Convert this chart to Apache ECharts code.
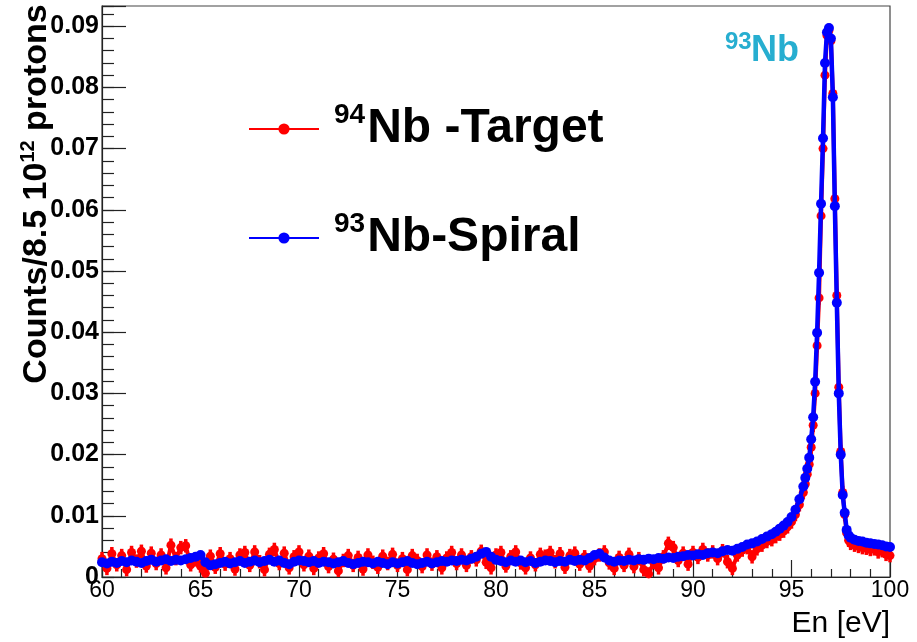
<!DOCTYPE html>
<html><head><meta charset="utf-8">
<script src="https://cdn.jsdelivr.net/npm/echarts@6/dist/echarts.min.js"></script>
<style>html,body{margin:0;padding:0;background:#fff}#c{width:917px;height:642px}</style>
</head><body><div id="c"></div>
<script>
// Neutron energy (eV) bin centres
const energies = [
60,60.25,60.5,60.75, 61,61.25,61.5,61.75, 62,62.25,62.5,62.75, 63,63.25,63.5,63.75,
64,64.25,64.5,64.75, 65,65.25,65.5,65.75, 66,66.25,66.5,66.75, 67,67.25,67.5,67.75,
68,68.25,68.5,68.75, 69,69.25,69.5,69.75, 70,70.25,70.5,70.75, 71,71.25,71.5,71.75,
72,72.25,72.5,72.75, 73,73.25,73.5,73.75, 74,74.25,74.5,74.75, 75,75.25,75.5,75.75,
76,76.25,76.5,76.75, 77,77.25,77.5,77.75, 78,78.25,78.5,78.75, 79,79.25,79.5,79.75,
80,80.25,80.5,80.75, 81,81.25,81.5,81.75, 82,82.25,82.5,82.75, 83,83.25,83.5,83.75,
84,84.25,84.5,84.75, 85,85.25,85.5,85.75, 86,86.25,86.5,86.75, 87,87.25,87.5,87.75,
88,88.25,88.5,88.75, 89,89.25,89.5,89.75, 90,90.25,90.5,90.75, 91,91.25,91.5,91.75,
92,92.25,92.5,92.75, 93,93.25,93.5,93.75, 94,
94.2,94.4,94.6,94.8,95.0,95.2,95.4,95.6,
95.7,95.8,95.9,96.0,96.1,96.2,96.3,96.4,96.5,96.6,96.7,96.8,96.9,97.0,97.1,97.2,97.3,97.4,97.5,97.6,97.7,97.8,97.9,98.0,
98.2,98.4,98.6,98.8,99.0,99.2,99.4,99.6,99.8,100.0
];
// 94Nb - Target counts
const target94 = [
0.0030,0.0014,0.0038,0.0020, 0.0035,0.0012,0.0040,0.0026, 0.0042,0.0018,0.0039,0.0022, 0.0036,0.0015,0.0052,0.0030,
0.0048,0.0051,0.0020,0.0028, 0.0018,0.0006,0.0034,0.0016, 0.0038,0.0021,0.0030,0.0013, 0.0036,0.0040,0.0019,0.0041,
0.0025,0.0012,0.0037,0.0045, 0.0022,0.0039,0.0015,0.0033, 0.0041,0.0020,0.0034,0.0014, 0.0031,0.0038,0.0017,0.0029,
0.0010,0.0027,0.0035,0.0019, 0.0032,0.0013,0.0036,0.0024, 0.0016,0.0034,0.0022,0.0037, 0.0019,0.0030,0.0012,0.0035,
0.0027,0.0017,0.0036,0.0021, 0.0033,0.0015,0.0031,0.0040, 0.0022,0.0036,0.0019,0.0033, 0.0028,0.0042,0.0024,0.0015,
0.0036,0.0040,0.0018,0.0033, 0.0041,0.0023,0.0015,0.0031, 0.0020,0.0037,0.0034,0.0040, 0.0025,0.0038,0.0016,0.0035,
0.0039,0.0021,0.0033,0.0018, 0.0030,0.0036,0.0041,0.0023, 0.0014,0.0032,0.0019,0.0037, 0.0017,0.0030,0.0012,0.0005,
0.0024,0.0015,0.0033,0.0055, 0.0048,0.0027,0.0039,0.0021, 0.0040,0.0032,0.0045,0.0036, 0.0041,0.0030,0.0043,0.0025,
0.0014,0.0036,0.0044,0.0048, 0.0033,0.0046,0.0052,0.0058, 0.0061,
0.0066,0.0070,0.0075,0.0082,0.0090,0.0102,0.0118,0.0138,
0.0152,0.0168,0.0184,0.0212,0.0248,0.0300,0.0378,0.0456,0.0590,0.0700,0.0820,0.0885,0.0893,0.0876,0.0790,0.0618,0.0460,0.0310,0.0205,0.0138,0.0102,0.0072,0.0060,0.0055,
0.0052,0.0050,0.0048,0.0047,0.0045,0.0046,0.0041,0.0043,0.0037,0.0035
];
// 93Nb - Spiral counts
const spiral93 = [
0.0024,0.0022,0.0025,0.0023, 0.0026,0.0024,0.0027,0.0025, 0.0023,0.0026,0.0028,0.0025, 0.0027,0.0029,0.0026,0.0028,
0.0027,0.0029,0.0031,0.0033, 0.0036,0.0024,0.0019,0.0021, 0.0023,0.0025,0.0022,0.0024, 0.0026,0.0023,0.0025,0.0027,
0.0024,0.0026,0.0028,0.0025, 0.0027,0.0023,0.0021,0.0025, 0.0027,0.0026,0.0024,0.0026, 0.0023,0.0025,0.0024,0.0022,
0.0024,0.0026,0.0023,0.0021, 0.0023,0.0025,0.0024,0.0022, 0.0025,0.0023,0.0021,0.0024, 0.0022,0.0024,0.0026,0.0023,
0.0021,0.0023,0.0025,0.0022, 0.0024,0.0026,0.0025,0.0027, 0.0026,0.0028,0.0027,0.0030, 0.0033,0.0038,0.0041,0.0033,
0.0028,0.0026,0.0024,0.0027, 0.0025,0.0027,0.0024,0.0026, 0.0023,0.0025,0.0027,0.0026, 0.0024,0.0026,0.0025,0.0028,
0.0026,0.0028,0.0027,0.0031, 0.0036,0.0038,0.0032,0.0027, 0.0025,0.0027,0.0026,0.0028, 0.0027,0.0029,0.0028,0.0030,
0.0029,0.0031,0.0030,0.0032, 0.0031,0.0033,0.0034,0.0036, 0.0035,0.0037,0.0036,0.0039, 0.0040,0.0039,0.0042,0.0044,
0.0043,0.0046,0.0049,0.0053, 0.0055,0.0058,0.0062,0.0066, 0.0070,
0.0074,0.0079,0.0084,0.0090,0.0098,0.0110,0.0127,0.0148,
0.0162,0.0177,0.0195,0.0225,0.0261,0.0319,0.0399,0.0497,0.0610,0.0717,0.0840,0.0890,0.0897,0.0880,0.0784,0.0606,0.0448,0.0300,0.0200,0.0134,0.0105,0.0077,0.0068,0.0064,
0.0061,0.0059,0.0058,0.0056,0.0055,0.0054,0.0053,0.0052,0.0050,0.0049
];
const targetErrBar = 0.0011;   // approximate statistical error on the target spectrum
const seriesNames = ['94Nb -Target', '93Nb-Spiral'];
const xRange = [60, 100];
const yRange = [0, 0.0933];

const FONT = '"Liberation Sans", Arial, Helvetica, sans-serif';
const pairs = (ys) => energies.map((e, i) => [e, ys[i]]);

const chart = echarts.init(document.getElementById('c'), null, {renderer: 'canvas'});
chart.setOption({
  animation: false,
  backgroundColor: '#fff',
  grid: {left: 102, right: 27, top: 6, bottom: 65, show: true, borderColor: '#444', borderWidth: 1.2, backgroundColor: 'transparent'},
  xAxis: {
    type: 'value', min: xRange[0], max: xRange[1], interval: 5,
    axisLine: {show: true, lineStyle: {color: '#222', width: 1.2}},
    axisTick: {show: true, inside: true, length: 17, lineStyle: {color: '#222', width: 1.2}},
    minorTick: {show: true, splitNumber: 5, length: 8, lineStyle: {color: '#222', width: 1.2}},
    splitLine: {show: false},
    axisLabel: {color: '#000', fontSize: 23, fontFamily: FONT, margin: 2}
  },
  yAxis: [{
    type: 'value', min: yRange[0], max: yRange[1], interval: 0.01, position: 'left',
    axisLine: {show: true, lineStyle: {color: '#222', width: 1.2}},
    axisTick: {show: true, inside: true, length: 24, lineStyle: {color: '#222', width: 1.2}},
    splitLine: {show: false},
    axisLabel: {color: '#000', fontSize: 25, fontWeight: 'bold', fontFamily: FONT, margin: 3,
      formatter: v => v === 0 ? '0' : (v > 0.0905 ? '' : v.toFixed(2))}
  }, {
    type: 'value', min: yRange[0], max: yRange[1], interval: 0.002, position: 'left',
    axisLine: {show: false},
    axisTick: {show: true, inside: true, length: 12, lineStyle: {color: '#222', width: 1.2}},
    splitLine: {show: false}, axisLabel: {show: false}
  }],
  legend: {
    orient: 'vertical', left: 243, top: 96, itemGap: 57, itemWidth: 70, itemHeight: 14,
    data: seriesNames,
    formatter: name => name === seriesNames[0] ? '{sup|94}{main|Nb -Target}' : '{sup|93}{main|Nb-Spiral}',
    textStyle: {
      fontFamily: FONT,
      rich: {
        sup: {fontSize: 28, fontWeight: 'bold', fontFamily: FONT, color: '#000', verticalAlign: 'top', lineHeight: 30, padding: [0, 2, 0, 10]},
        main: {fontSize: 48, fontWeight: 'bold', fontFamily: FONT, color: '#000', lineHeight: 56}
      }
    }
  },
  graphic: [
    {type: 'text', x: 37, y: 194, rotation: Math.PI / 2,
     style: {text: '{a|Counts/8.5 10}{b|12}{a| protons}', textAlign: 'center', textVerticalAlign: 'middle',
       rich: {a: {fontSize: 34, fontWeight: 'bold', fontFamily: FONT, fill: '#000', color: '#000', lineHeight: 38},
              b: {fontSize: 20, fontWeight: 'bold', fontFamily: FONT, fill: '#000', color: '#000', verticalAlign: 'top', lineHeight: 23}}}},
    {type: 'text', x: 890, y: 624,
     style: {text: 'En [eV]', textAlign: 'right', textVerticalAlign: 'middle', font: '30px ' + FONT, fill: '#000'}},
    {type: 'text', x: 725, y: 42,
     style: {text: '93', textAlign: 'left', textVerticalAlign: 'middle', font: 'bold 24px ' + FONT, fill: '#27aed0'}},
    {type: 'text', x: 751, y: 51,
     style: {text: 'Nb', textAlign: 'left', textVerticalAlign: 'middle', font: 'bold 36px ' + FONT, fill: '#27aed0'}}
  ],
  series: [
    {name: 'errbars', type: 'custom', yAxisIndex: 0, silent: true, z: 1,
     data: pairs(target94),
     renderItem: (params, api) => {
       const x = api.value(0), y = api.value(1);
       const p1 = api.coord([x, Math.max(0, y - targetErrBar)]);
       const p2 = api.coord([x, y + targetErrBar]);
       return {type: 'line', shape: {x1: p1[0], y1: p1[1], x2: p2[0], y2: p2[1]},
               style: {stroke: '#ff0000', lineWidth: 3.5}};
     }},
    {name: seriesNames[0], type: 'line', data: pairs(target94), yAxisIndex: 0,
     symbol: 'circle', symbolSize: 9, showSymbol: true, color: '#ff0000',
     lineStyle: {color: '#ff0000', width: 4}, itemStyle: {color: '#ff0000'}, z: 2},
    {name: seriesNames[1], type: 'line', data: pairs(spiral93), yAxisIndex: 0,
     symbol: 'circle', symbolSize: 10, showSymbol: true, color: '#0000ff',
     lineStyle: {color: '#0000ff', width: 4.5}, itemStyle: {color: '#0000ff'}, z: 3}
  ]
});
</script></body></html>
